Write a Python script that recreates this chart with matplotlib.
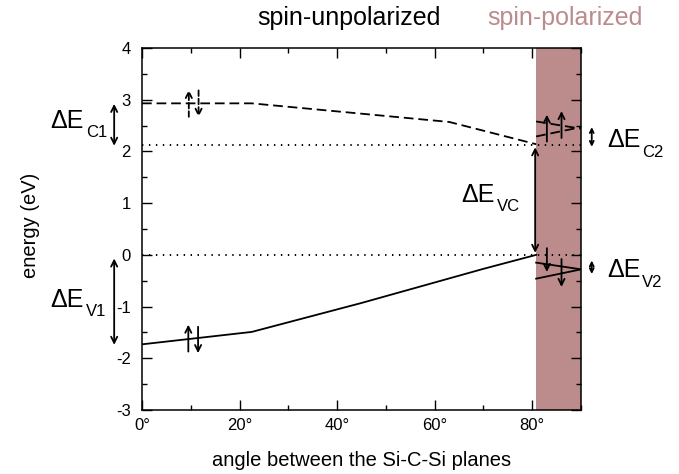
import numpy as np
import matplotlib
matplotlib.use('Agg')
import matplotlib.pyplot as plt
from matplotlib.ticker import MultipleLocator, FuncFormatter

plt.rcParams['font.family'] = ['Liberation Sans', 'DejaVu Sans']
plt.rcParams['lines.scale_dashes'] = False
plt.rcParams['axes.unicode_minus'] = False

# band edges, spin-unpolarized part (angle in degrees, energy in eV)
ang_c = [0, 22.5, 63, 80.8]
e_c = [2.93, 2.93, 2.57, 2.14]
ang_v = [0, 22.5, 45, 70, 80.8]
e_v = [-1.73, -1.49, -0.93, -0.27, 0.0]

# spin-polarized part
ang_pol = [80.8, 90]
e_c_up = [2.29, 2.47]
e_c_dn = [2.58, 2.44]
e_v_up = [-0.15, -0.28]
e_v_dn = [-0.46, -0.28]

e_cbm = 2.13
e_vbm = 0.0
pol_start = 80.8

shade = '#bc8b8b'

fig = plt.figure(figsize=(6.79, 4.74), dpi=100)
ax = fig.add_axes([0.2091, 0.135, 0.6466, 0.7637])

ax.axvspan(pol_start, 90, color=shade, lw=0, zorder=0)

ax.plot(ang_c, e_c, color='k', lw=1.3, dashes=(7, 3.5))
ax.plot(ang_v, e_v, color='k', lw=1.3)
ax.plot(ang_pol, e_c_up, color='k', lw=1.3, dashes=(7, 3.5))
ax.plot(ang_pol, e_c_dn, color='k', lw=1.3, dashes=(7, 3.5))
ax.plot(ang_pol, e_v_up, color='k', lw=1.3)
ax.plot(ang_pol, e_v_dn, color='k', lw=1.3)

ax.plot([0, 90], [e_cbm, e_cbm], color='k', lw=1.4, dashes=(1, 4))
ax.plot([0, 90], [e_vbm, e_vbm], color='k', lw=1.4, dashes=(1, 4))


def arrow(x0, y0, x1, y1, style='->', ls='-', ms=11):
    ax.annotate('', xy=(x1, y1), xytext=(x0, y0), annotation_clip=False,
                arrowprops=dict(arrowstyle=style, color='k', lw=1.3, ls=ls,
                                shrinkA=0, shrinkB=0, mutation_scale=ms))


# spin arrows
arrow(9.6, 2.67, 9.6, 3.19, ls=(0, (4, 2)))
arrow(11.6, 3.18, 11.6, 2.67, ls=(0, (4, 2)))
arrow(9.5, -1.87, 9.5, -1.35)
arrow(11.5, -1.39, 11.5, -1.90)
arrow(83.0, 2.19, 83.0, 2.71)
arrow(86.0, 2.26, 86.0, 2.78)
arrow(83.0, 0.13, 83.0, -0.33)
arrow(86.0, -0.08, 86.0, -0.62)

# energy differences
arrow(-5.7, 2.92, -5.7, 2.11, style='<->')
arrow(-5.7, -0.07, -5.7, -1.74, style='<->')
arrow(80.6, 2.08, 80.6, 0.04, style='<->')
arrow(92.2, 2.47, 92.2, 2.09, style='<->', ms=7)
arrow(92.2, -0.11, 92.2, -0.37, style='<->', ms=7)


def label(x, y, sub):
    ax.text(x, y, '\u0394E', fontsize=18, ha='left', va='baseline')
    ax.annotate(sub, xy=(x, y), xytext=(25.5, -7), textcoords='offset points',
                fontsize=12, ha='left', va='baseline', annotation_clip=False)


label(-18.8, 2.46, 'C1')
label(-18.8, -1.0, 'V1')
label(65.4, 1.03, 'VC')
label(95.3, 2.09, 'C2')
label(95.3, -0.43, 'V2')

ax.set_xlim(0, 90)
ax.set_ylim(-3, 4)
ax.xaxis.set_major_locator(MultipleLocator(20))
ax.xaxis.set_minor_locator(MultipleLocator(10))
ax.yaxis.set_major_locator(MultipleLocator(1))
ax.yaxis.set_minor_locator(MultipleLocator(0.5))
ax.xaxis.set_major_formatter(FuncFormatter(lambda v, p: '%d\u00b0' % v))
ax.tick_params(which='both', direction='in', top=True, right=True, width=1.0,
               labelsize=12)
ax.tick_params(which='major', length=7)
ax.tick_params(which='minor', length=3.5)
ax.tick_params(axis='y', pad=8)
ax.tick_params(axis='x', pad=6)
for s in ax.spines.values():
    s.set_linewidth(1.1)

ax.set_xlabel('angle between the Si-C-Si planes', fontsize=14.5, labelpad=13)
ax.set_ylabel('energy (eV)', fontsize=14.5)
ax.yaxis.set_label_coords(-0.232, 0.51)

fig.text(349 / 679, 1 - 18 / 474, 'spin-unpolarized', fontsize=18,
         ha='center', va='center')
fig.text(565 / 679, 1 - 18 / 474, 'spin-polarized', fontsize=18,
         ha='center', va='center', color=shade)

fig.savefig('out.png', dpi=100)
